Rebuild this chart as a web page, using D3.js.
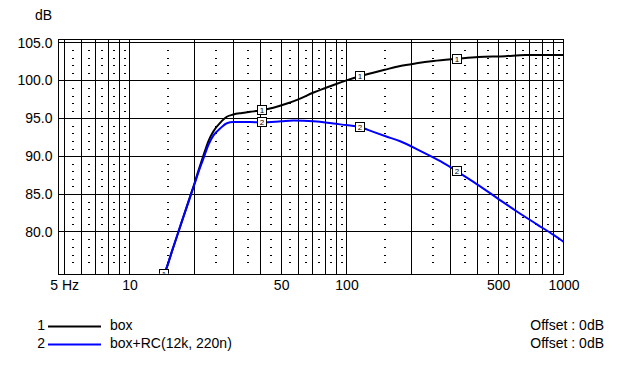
<!DOCTYPE html>
<html>
<head>
<meta charset="utf-8">
<script src="https://cdn.jsdelivr.net/npm/d3@7/dist/d3.min.js"></script>
<style>
html,body{margin:0;padding:0;background:#fff;}
svg{display:block;}
text{font-family:"Liberation Sans",Arial,sans-serif;fill:#000;}
</style>
</head>
<body>
<svg id="chart" width="621" height="377"></svg>
<script>
// ---- data ----
const seriesNames = ["box", "box+RC(12k, 220n)"];
const seriesColors = ["#000000", "#0000ff"];
const offsets = ["Offset : 0dB", "Offset : 0dB"];

const boxFreq = [14.4,14.76,15.68,16.54,17.44,18.39,19.04,19.93,20.8,21.93,23.12,24.38,26.18,28.1,30.1,33,36,40.7,46,53.2,60,70.5,80,87.2,100,115,130,150,176.8,210,251.8,323,405,538,666,800,1000];
const boxDb   = [74.4,75.1,77.4,79.4,81.4,83.4,84.7,86.4,88.1,90.1,92.0,93.3,94.4,95.2,95.5,95.7,95.85,96.07,96.4,96.95,97.5,98.4,99.0,99.4,100.0,100.55,100.95,101.4,101.9,102.25,102.55,102.85,103.1,103.2,103.35,103.35,103.35];

const rcFreq = [14.4,14.76,15.68,16.54,17.44,18.39,19.04,19.93,20.8,21.93,23.12,24.38,26.18,28.1,30.1,36,40.7,50,57,70.5,80,87,100,115,133,152.6,176.8,218.6,272,323,384.6,493,610,754,900,1000];
const rcDb   = [74.4,75.1,77.4,79.4,81.4,83.3,84.6,86.3,87.9,89.7,91.5,92.75,93.65,94.35,94.5,94.5,94.47,94.6,94.7,94.6,94.45,94.3,94.1,93.85,93.2,92.6,91.97,90.7,89.3,88.0,86.6,84.5,82.7,81.0,79.6,78.7];

const markerFreq = [14.4, 40.7, 115, 323];
const markerBox = [74.4, 96.07, 100.55, 102.85];
const markerRc  = [74.4, 94.47, 93.85, 88.0];

const yTickVals = [80, 85, 90, 95, 100, 105];
const xLabelVals = [5, 10, 50, 100, 500, 1000];
const xLabelText = ["5 Hz", "10", "50", "100", "500", "1000"];
const xMajor = [5,6,7,8,9,10,20,30,40,50,60,70,80,90,100,200,300,400,500,600,700,800,900,1000];
const xMinor = [5.5,6.5,7.5,8.5,9.5,15,25,35,45,55,65,75,85,95,150,250,350,450,550,650,750,850,950];
const yMinor = [76,77,78,79,81,82,83,84,86,87,88,89,91,92,93,94,96,97,98,99,101,102,103,104];

// ---- layout ----
const L = 58.5, R = 563.5, T = 39.5, B = 274.5;
const svg = d3.select("#chart");
const x = d3.scaleLog().domain([4.71, 1000]).range([L, R]);
const y = d3.scaleLinear().domain([74.38, 105.4]).range([B, T]);
const px = v => Math.round(x(v) - 0.5) + 0.5;
const py = v => Math.round(y(v) - 0.5) + 0.5;

const grid = svg.append("g");
// minor dots
yMinor.forEach(db => {
  xMinor.forEach(f => {
    grid.append("rect").attr("x", Math.round(x(f)) - 1).attr("y", Math.round(y(db)))
      .attr("width", 2).attr("height", 1).attr("fill", "#000");
  });
});
// major vertical lines
xMajor.forEach(f => {
  grid.append("line").attr("x1", px(f)).attr("x2", px(f)).attr("y1", T).attr("y2", B)
    .attr("stroke", "#000").attr("stroke-width", 1);
});
// major horizontal lines
yTickVals.forEach(v => {
  grid.append("line").attr("x1", L).attr("x2", R).attr("y1", py(v)).attr("y2", py(v))
    .attr("stroke", "#000").attr("stroke-width", 1);
});
// frame
grid.append("rect").attr("x", L).attr("y", T).attr("width", R - L).attr("height", B - T)
  .attr("fill", "none").attr("stroke", "#000").attr("stroke-width", 1);

// axes (labels only)
const yAxis = d3.axisLeft(y).tickValues(yTickVals).tickFormat(d => d.toFixed(1)).tickSize(0).tickPadding(0);
const ga = svg.append("g").attr("transform", `translate(${L - 6},0)`).call(yAxis);
ga.select(".domain").remove();
ga.selectAll("text").attr("font-size", 14).attr("font-family", "Liberation Sans, Arial, sans-serif")
  .attr("dy", null).attr("y", 4.5).attr("fill", "#000");

const xAxis = d3.axisBottom(x).tickValues(xLabelVals).tickFormat((d, i) => xLabelText[i]).tickSize(0).tickPadding(0);
const gx = svg.append("g").attr("transform", `translate(0,${B})`).call(xAxis);
gx.select(".domain").remove();
gx.selectAll("text").attr("font-size", 14).attr("font-family", "Liberation Sans, Arial, sans-serif")
  .attr("dy", null).attr("y", 15).attr("fill", "#000");

svg.append("text").attr("x", 52).attr("y", 20).attr("text-anchor", "end").attr("font-size", 14).text("dB");

// clip
svg.append("clipPath").attr("id", "plotclip").append("rect")
  .attr("x", L + 0.5).attr("y", T + 0.5).attr("width", R - L - 1).attr("height", B - T - 1.5);

const plot = svg.append("g").attr("clip-path", "url(#plotclip)");
const s1 = boxFreq.map((f, i) => [f, boxDb[i]]);
const s2 = rcFreq.map((f, i) => [f, rcDb[i]]);
const lineGen = d3.line().x(d => x(d[0])).y(d => y(d[1])).curve(d3.curveMonotoneX);
plot.append("path").datum(s1).attr("d", lineGen)
  .attr("fill", "none").attr("stroke", seriesColors[0]).attr("stroke-width", 2);
plot.append("path").datum(s2).attr("d", lineGen)
  .attr("fill", "none").attr("stroke", seriesColors[1]).attr("stroke-width", 2);

function drawMarkers(vals, label) {
  markerFreq.forEach((f, i) => {
    const cx = Math.round(x(f)), cy = Math.round(y(vals[i]));
    const g = plot.append("g");
    g.append("rect").attr("x", cx - 4.5).attr("y", cy - 4.5).attr("width", 9).attr("height", 9)
      .attr("fill", "#fff").attr("stroke", "#000").attr("stroke-width", 1);
    g.append("text").attr("x", cx).attr("y", cy + 3).attr("text-anchor", "middle")
      .attr("font-size", 8).text(label);
  });
}
drawMarkers(markerRc, "2");
drawMarkers(markerBox, "1");

// legend
const legY = [330, 348];
seriesNames.forEach((n, i) => {
  const yy = legY[i];
  svg.append("text").attr("x", 45).attr("y", yy).attr("text-anchor", "end").attr("font-size", 14).text(String(i + 1));
  svg.append("line").attr("x1", 48).attr("x2", 101).attr("y1", yy - 3.5).attr("y2", yy - 3.5)
    .attr("stroke", seriesColors[i]).attr("stroke-width", 2);
  svg.append("text").attr("x", 110).attr("y", yy).attr("font-size", 14).text(n);
  svg.append("text").attr("x", 604).attr("y", yy).attr("text-anchor", "end").attr("font-size", 14).text(offsets[i]);
});
</script>
</body>
</html>
